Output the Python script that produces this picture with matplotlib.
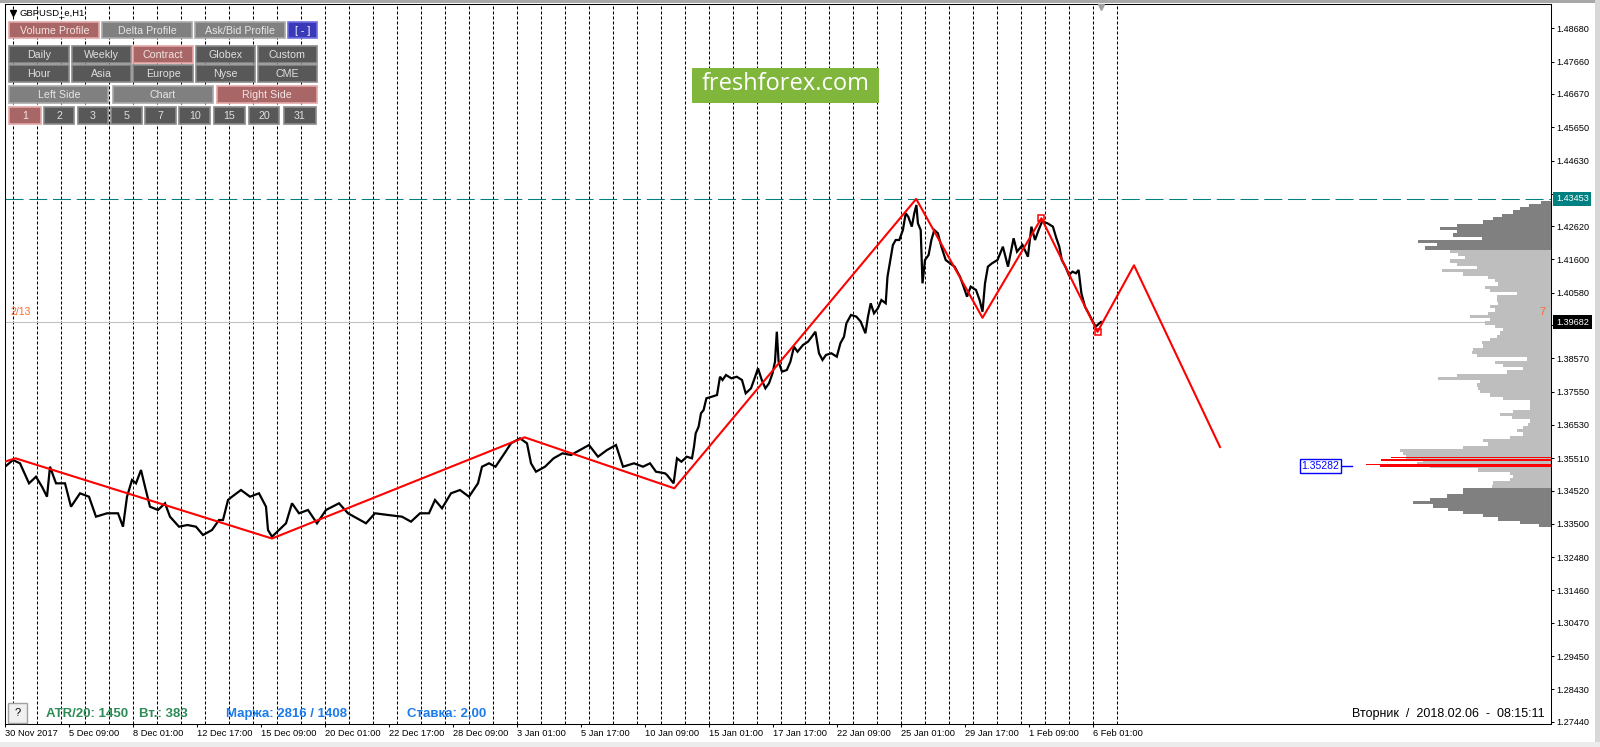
import numpy as np
import matplotlib
matplotlib.use("Agg")
import matplotlib.pyplot as plt
from matplotlib.patches import Rectangle
from matplotlib.transforms import blended_transform_factory

plt.rcParams['font.family'] = ['Liberation Sans', 'DejaVu Sans']

# ---------------- data ----------------
symbol = "GBPUSD_e,H1"

price_bars = [0, 8, 15, 19.5, 24, 31, 37, 42, 45, 51, 60, 66, 75, 84, 91, 102, 113, 118, 122, 127,
              131, 136, 140, 145, 153, 160, 165, 174, 182.5, 191, 198, 207, 214, 218, 223, 227, 236,
              245, 254, 261, 263, 267, 274, 281, 287, 294, 303, 312, 321, 334, 343, 352, 361, 370,
              383, 397, 406, 415, 424, 430, 437, 446, 455, 464, 473, 477, 484, 490.5, 499.5, 506,
              515, 522, 526, 531, 540, 548.6, 557.5, 566, 575, 584, 593, 602, 611, 618, 629, 638,
              645, 651, 660, 662, 668.6, 670, 672, 676.4, 681.8, 687, 689, 690.7, 693.6, 696, 698.6,
              701.4, 706.8, 712, 715, 717.5, 721, 726.4, 731.8, 737, 740.7, 746, 749.6, 753, 756.8,
              760.4, 764, 767.5, 770, 771.8, 773.6, 777, 781.8, 785.4, 789, 792.5, 798, 803, 806.8,
              810.4, 814, 817.5, 821, 826.4, 831.8, 835.4, 839, 841.4, 846, 851.4, 855.7, 860.4, 863,
              865.7, 869, 872.9, 876.4, 880.7, 882.5, 885.4, 887.9, 890.7, 894.3, 897.9, 900.7, 903.2,
              906.8, 909.3, 911.4, 912.9, 915.7, 917.5, 920, 923.6, 926.4, 929.3, 932.9, 936.4, 940.7,
              945, 949.6, 955, 958.6, 962, 965.7, 971, 974.6, 977.5, 980, 982.9, 987, 992.5, 997.9,
              1003, 1008.6, 1012, 1017.5, 1022.9, 1026.4, 1030, 1033.6, 1037, 1042.5, 1047.9, 1051.4,
              1054.3, 1056.8, 1060.4, 1063.9, 1067.5, 1071, 1073.6, 1076.4, 1080, 1083.6, 1087,
              1090.7, 1094.3, 1096]
price_vals = [1.35251, 1.35456, 1.35355, 1.35048, 1.34742, 1.34944, 1.34638, 1.34332, 1.35251, 1.34742,
              1.34742, 1.34026, 1.34436, 1.34332, 1.33720, 1.33824, 1.33824, 1.33413, 1.34332, 1.34844,
              1.34742, 1.35150, 1.34638, 1.34026, 1.33925, 1.34130, 1.33720, 1.33413, 1.33465, 1.33413,
              1.33159, 1.33312, 1.33618, 1.33618, 1.34231, 1.34332, 1.34537, 1.34332, 1.34436, 1.34026,
              1.33312, 1.33107, 1.33312, 1.33517, 1.34130, 1.33824, 1.33925, 1.33517, 1.33925, 1.34130,
              1.33824, 1.33670, 1.33517, 1.33824, 1.33772, 1.33720, 1.33567, 1.33824, 1.33824, 1.34231,
              1.33977, 1.34436, 1.34537, 1.34332, 1.34742, 1.35251, 1.35355, 1.35251, 1.35661, 1.35967,
              1.36120, 1.35967, 1.35355, 1.35098, 1.35251, 1.35508, 1.35661, 1.35609, 1.35762, 1.35915,
              1.35557, 1.35762, 1.35915, 1.35251, 1.35355, 1.35251, 1.35355, 1.35098, 1.35048, 1.34997,
              1.34742, 1.35048, 1.35508, 1.35404, 1.35557, 1.35508, 1.35863, 1.36273, 1.36475, 1.36887,
              1.36988, 1.37346, 1.37395, 1.37447, 1.38007, 1.37906, 1.38059, 1.37958, 1.38007, 1.37906,
              1.37499, 1.37652, 1.37958, 1.38264, 1.37906, 1.37652, 1.37805, 1.38111, 1.38468, 1.39386,
              1.38468, 1.38162, 1.38213, 1.38468, 1.38927, 1.38774, 1.38979, 1.39080, 1.39233, 1.39386,
              1.38725, 1.38520, 1.38673, 1.38725, 1.38621, 1.39031, 1.39233, 1.39644, 1.39898, 1.39847,
              1.39694, 1.39339, 1.39847, 1.40256, 1.39950, 1.40103, 1.40357, 1.40256, 1.41072, 1.41583,
              1.42042, 1.42195, 1.42195, 1.42501, 1.43014, 1.42911, 1.42604, 1.43014, 1.43268, 1.42708,
              1.42501, 1.40867, 1.41583, 1.41736, 1.42195, 1.42501, 1.42400, 1.41990, 1.41583, 1.41481,
              1.41379, 1.41072, 1.40766, 1.40459, 1.40766, 1.40664, 1.40357, 1.39999, 1.40867, 1.41379,
              1.41481, 1.41583, 1.41990, 1.41379, 1.42247, 1.41837, 1.42042, 1.41684, 1.42604, 1.42195,
              1.42501, 1.42755, 1.42708, 1.42604, 1.42247, 1.41990, 1.41583, 1.41379, 1.41124, 1.41225,
              1.41176, 1.41277, 1.40561, 1.40152, 1.39950, 1.39745, 1.39539, 1.39644, 1.39682]

zigzag_bars = [-0.5, 10.6, 267, 519.6, 669.3, 911.2, 977.5, 1036.4, 1092.5, 1129, 1215]
zigzag_vals = [1.35404, 1.35508, 1.33051, 1.36151, 1.34589, 1.43453, 1.39812, 1.42861, 1.39383, 1.41421, 1.35854]
zigzag_mark_bars = [1036.4, 1092.5]
zigzag_mark_vals = [1.42861, 1.39383]

date_labels = ["30 Nov 2017", "5 Dec 09:00", "8 Dec 01:00", "12 Dec 17:00", "15 Dec 09:00",
               "20 Dec 01:00", "22 Dec 17:00", "28 Dec 09:00", "3 Jan 01:00", "5 Jan 17:00",
               "10 Jan 09:00", "15 Jan 01:00", "17 Jan 17:00", "22 Jan 09:00", "25 Jan 01:00",
               "29 Jan 17:00", "1 Feb 09:00", "6 Feb 01:00"]
date_tick_bars = [0, 64, 128, 192, 256, 320, 384, 448, 512, 576, 640, 704, 768, 832, 896, 960, 1024, 1088]
separator_bars = np.arange(7.5, 1120, 24)   # day separators (24 H1 bars per day)

price_ticks = [1.48680, 1.47660, 1.46670, 1.45650, 1.44630, 1.43610, 1.42620, 1.41600, 1.40580,
               1.39590, 1.38570, 1.37550, 1.36530, 1.35510, 1.34520, 1.33500, 1.32480, 1.31460,
               1.30470, 1.29450, 1.28430, 1.27440]
hidden_tick_labels = [1.43610, 1.39590]   # covered by the price label boxes

high_level = 1.43453
bid_level = 1.39682
poc_level = 1.35282
marker_level = 1.39975

profile_top = 1.4335
profile_step = 0.001
profile_volumes = [10, 22, 31, 38, 49, 58, 68, 94, 111, 94,
                   98, 69, 133, 114, 126, 101, 93, 86, 101, 94,
                   74, 109, 88, 63, 56, 53, 66, 61, 34, 54,
                   54, 53, 61, 56, 63, 81, 61, 66, 56, 48,
                   51, 54, 61, 69, 68, 78, 79, 74, 24, 56,
                   48, 28, 44, 94, 113, 71, 74, 73, 71, 61,
                   48, 21, 21, 21, 38, 51, 39, 21, 23, 28,
                   34, 28, 41, 68, 63, 88, 151, 148, 145, 128,
                   134, 121, 73, 41, 38, 41, 58, 59, 88, 88,
                   104, 121, 138, 118, 103, 88, 68, 53, 31, 12]
profile_prices = np.round(profile_top - profile_step * np.arange(len(profile_volumes)), 4)
value_area = (1.3460, 1.4190)

poc_prices = [1.3554, 1.3546, 1.3533, 1.3528]
poc_volumes = [160, 170, 185, 171]

# ---------------- figure ----------------
W, H = 1600, 747
fig = plt.figure(figsize=(W / 100, H / 100), dpi=100)
fig.patch.set_facecolor('white')

L, R, T, B = 4.5, 1551.0, 4.0, 723.5
ax = fig.add_axes([L / W, (H - B) / H, (R - L) / W, (B - T) / H])
ax.set_xlim(-0.5, 1546)
ax.set_ylim(1.27385, 1.49424)
ax.set_facecolor('white')

for b in separator_bars:
    ax.axvline(b, color='black', lw=0.75, ls=(0, (2.9, 1.9)), zorder=1)

ax.axhline(bid_level, color='#C0C0C0', lw=0.75, zorder=2)
ax.axhline(high_level, color='#008080', lw=0.75, ls=(0, (17.3, 5.5)), zorder=2)

ax.plot(price_bars, price_vals, color='black', lw=1.6, zorder=4, solid_joinstyle='miter')
ax.plot(zigzag_bars, zigzag_vals, color='#FF0000', lw=1.5, zorder=5)
ax.plot(zigzag_mark_bars, zigzag_mark_vals, 's', mfc='none', mec='#FF0000', ms=4, mew=1.1, zorder=6)

orange = '#FF6A30'
ax.text(5, marker_level, "2/13", color=orange, fontsize=7.5, ha='left', va='center', zorder=6)

# POC label
ax.text(1315.5, poc_level, "1.35282", color='#0000FF', fontsize=7.5, ha='center', va='center',
        bbox=dict(boxstyle='square,pad=0.18', fc='white', ec='#0000FF', lw=1.0), zorder=7)
ax.plot([1337, 1347], [poc_level, poc_level], color='#0000FF', lw=1.0, zorder=7)

# axes styling
ax.yaxis.tick_right()
ax.set_yticks(price_ticks)
ax.set_yticklabels(["" if v in hidden_tick_labels else f"{v:.5f}" for v in price_ticks])
ax.tick_params(axis='y', which='both', right=True, left=False, labelright=True, labelleft=False,
               length=2.2, width=0.75, pad=2.0, labelsize=6.6, direction='out', colors='black')
ax.set_xticks(date_tick_bars)
ax.set_xticklabels(date_labels, ha='left')
ax.tick_params(axis='x', length=2.2, width=0.75, pad=1.5, labelsize=6.7, direction='out')
for s in ax.spines.values():
    s.set_color('black')
    s.set_linewidth(0.75)

# right-side price labels
bt = blended_transform_factory(ax.transAxes, ax.transData)
ax.text(1.0032, high_level, f"{high_level:.5f}", transform=bt, color='white', fontsize=6.6,
        ha='left', va='center', clip_on=False, zorder=10,
        bbox=dict(boxstyle='square,pad=0.3', fc='#008080', ec='none'))
ax.text(1.0032, bid_level, f"{bid_level:.5f}", transform=bt, color='white', fontsize=6.6,
        ha='left', va='center', clip_on=False, zorder=10,
        bbox=dict(boxstyle='square,pad=0.3', fc='black', ec='none'))

# volume profile on a twin axis anchored to the right edge
axv = ax.twiny()
axv.set_xlim(1546.5, 0)
axv.set_xticks([])
for s in axv.spines.values():
    s.set_visible(False)
prof_colors = ['#BEBEBE' if value_area[0] <= p <= value_area[1] else '#808080' for p in profile_prices]
axv.barh(profile_prices, profile_volumes, height=profile_step, color=prof_colors, lw=0, zorder=2)
axv.barh(poc_prices, poc_volumes, height=[0.0004, 0.0007, 0.0003, 0.0010], color='#FF0000', lw=0, zorder=3)
axv.text(1537, marker_level, "7", transform=ax.transData, color=orange, fontsize=8,
         ha='center', va='center', zorder=6)

# ---------------- overlay (terminal UI) ----------------
ov = fig.add_axes([0, 0, 1, 1])
ov.set_xlim(0, W)
ov.set_ylim(H, 0)
ov.axis('off')

# window chrome
ov.add_patch(Rectangle((0, 0), W, 3, fc='#A8A8A8', ec='none'))
ov.add_patch(Rectangle((1595, 0), 5, H, fc='#D8D8D8', ec='none'))
ov.add_patch(Rectangle((0, 741.5), W, 6, fc='#ECECEC', ec='none'))

# title
ov.plot([12.5], [13], marker='v', color='black', ms=4)
ov.text(20, 13, symbol, fontsize=6.8, color='black', ha='left', va='center')

# buttons
rosy = ('#A86666', '#E4A8A8', '#F4E4E4')
mid = ('#808080', '#AAAAAA', '#E6E6E6')
dark = ('#585858', '#8A8A8A', '#E0E0E0')
blue = ('#3A3AB8', '#7070E0', '#FFFFFF')

button_rows = [
    ((21.7, 38.3), [("Volume Profile", 9.3, 99.3, rosy), ("Delta Profile", 102, 192, mid),
                    ("Ask/Bid Profile", 195, 285, mid), ("[ - ]", 288.3, 316.7, blue)]),
    ((46, 62.7), [("Daily", 9.3, 69.3, dark), ("Weekly", 71.7, 131, dark), ("Contract", 133.3, 193.3, rosy),
                  ("Globex", 195.7, 255, dark), ("Custom", 257.7, 316.7, dark)]),
    ((65.3, 81.7), [("Hour", 9.3, 69.3, dark), ("Asia", 71.7, 131, dark), ("Europe", 133.3, 193.3, dark),
                    ("Nyse", 195.7, 255, dark), ("CME", 257.7, 316.7, dark)]),
    ((86, 103.3), [("Left Side", 9.3, 108.3, mid), ("Chart", 113.3, 212.7, mid),
                   ("Right Side", 217.3, 316.7, rosy)]),
    ((107.3, 124), [("1", 9.3, 40.7, rosy), ("2", 44.3, 74, dark), ("3", 77.7, 107.7, dark),
                    ("5", 111.3, 141.7, dark), ("7", 145.3, 175.7, dark), ("10", 179.3, 210, dark),
                    ("15", 214, 244.7, dark), ("20", 248.7, 279.3, dark), ("31", 284, 316, dark)]),
]
for (y0, y1), buttons in button_rows:
    for label, x0, x1, (fc, ec, tc) in buttons:
        ov.add_patch(Rectangle((x0, y0), x1 - x0, y1 - y0, fc=fc, ec=ec, lw=1.2))
        ov.text((x0 + x1) / 2, (y0 + y1) / 2 + 0.5, label, fontsize=7.7, color=tc,
                ha='center', va='center')

# logo
ov.add_patch(Rectangle((692, 68), 187, 35, fc='#80B63C', ec='none'))
ov.text(785.5, 84.5, "freshforex.com", fontsize=17, color='white', ha='center', va='center',
        family=['Open Sans', 'DejaVu Sans'])

# help button and status texts
ov.add_patch(Rectangle((8, 703), 19, 20, fc='#F0F0F0', ec='#A0A0A0', lw=1))
ov.text(17.5, 713, "?", fontsize=8, color='black', ha='center', va='center')
green = '#2E8B57'
blue_t = '#1C7CEB'
ov.text(45.7, 714, "ATR/20: 1450", fontsize=9.5, fontweight='bold', color=green, ha='left', va='center')
ov.text(139, 714, "Вт.: 383", fontsize=9.5, fontweight='bold', color=green, ha='left', va='center')
ov.text(226, 714, "Маржа: 2816 / 1408", fontsize=9.5, fontweight='bold', color=blue_t, ha='left', va='center')
ov.text(407, 714, "Ставка: 2,00", fontsize=9.5, fontweight='bold', color=blue_t, ha='left', va='center')
ov.text(1545, 714, "Вторник  /  2018.02.06  -  08:15:11", fontsize=9, color='black',
        ha='right', va='center')

# chart-shift marker
ov.plot([1101.3], [6.5], marker='v', color='#A0A0A0', ms=5)

fig.savefig("out.png", dpi=100, facecolor='white')
